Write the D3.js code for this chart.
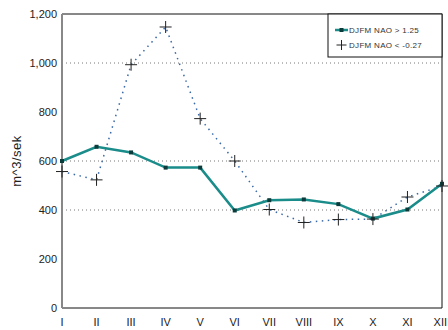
<!DOCTYPE html>
<html>
<head>
<meta charset="utf-8">
<script src="https://cdn.jsdelivr.net/npm/d3@7"></script>
<style>
  body { margin: 0; background: #fff; }
  text { font-family: "Liberation Sans", Arial, sans-serif; }
</style>
</head>
<body>
<div id="chart"></div>
<script>
const months = ['I', 'II', 'III', 'IV', 'V', 'VI', 'VII', 'VIII', 'IX', 'X', 'XI', 'XII'];
const naoHigh = [600, 658, 635, 573, 573, 398, 440, 443, 424, 365, 402, 507];
const naoLow = [557, 523, 993, 1147, 773, 600, 402, 349, 361, 363, 453, 498];
const yTicks = [0, 200, 400, 600, 800, 1000, 1200];
const gridValues = [400, 600, 1000];
const seriesNames = ['DJFM NAO > 1.25', 'DJFM NAO < -0.27'];

const width = 448, height = 330;
const mLeft = 62, mRight = 442, mTop = 14, mBottom = 308;

const svg = d3.select('#chart').append('svg').attr('width', width).attr('height', height);

const x = d3.scalePoint().domain(months).range([mLeft, mRight]);
const y = d3.scaleLinear().domain([0, 1200]).range([mBottom, mTop]);

// grid
svg.selectAll('.grid')
  .data(gridValues)
  .enter()
  .append('line')
  .attr('x1', mLeft)
  .attr('x2', mRight)
  .attr('y1', (d) => y(d))
  .attr('y2', (d) => y(d))
  .attr('stroke', '#777')
  .attr('stroke-width', 1)
  .attr('stroke-dasharray', '1,3');

// frame
svg.append('line').attr('x1', mLeft).attr('x2', mRight).attr('y1', mTop).attr('y2', mTop).attr('stroke', '#111');
svg.append('line').attr('x1', mRight).attr('x2', mRight).attr('y1', mTop).attr('y2', mBottom).attr('stroke', '#111');
svg.append('line').attr('x1', mLeft).attr('x2', mRight).attr('y1', mBottom).attr('y2', mBottom).attr('stroke', '#111');
svg.append('line').attr('x1', mLeft).attr('x2', mLeft).attr('y1', mTop).attr('y2', mBottom).attr('stroke', '#888').attr('stroke-width', 2);

// y tick labels
svg.selectAll('.ytick')
  .data(yTicks)
  .enter()
  .append('text')
  .attr('x', mLeft - 5)
  .attr('y', (d) => y(d) + 4)
  .attr('text-anchor', 'end')
  .attr('font-size', 11)
  .attr('fill', '#222')
  .text((d) => d3.format(',')(d));

// x tick labels (last one kept inside the window)
svg.selectAll('.xtick')
  .data(months)
  .enter()
  .append('text')
  .attr('x', (d, i) => (i === months.length - 1 ? width - 1 : x(d)))
  .attr('y', mBottom + 18)
  .attr('text-anchor', (d, i) => (i === months.length - 1 ? 'end' : 'middle'))
  .attr('font-size', 11)
  .attr('fill', '#222')
  .text((d) => d);

svg.append('text')
  .attr('transform', `translate(21, ${(mTop + mBottom) / 2}) rotate(-90)`)
  .attr('text-anchor', 'middle')
  .attr('font-size', 13)
  .attr('letter-spacing', 0.5)
  .attr('fill', '#222')
  .text('m^3/sek');

// low NAO dotted
const line = d3.line().x((d, i) => x(months[i])).y((d) => y(d));
svg.append('path')
  .datum(naoLow)
  .attr('d', line)
  .attr('fill', 'none')
  .attr('stroke', '#3a6aa8')
  .attr('stroke-width', 1.5)
  .attr('stroke-dasharray', '1.5,4.5');

// high NAO solid
svg.append('path')
  .datum(naoHigh)
  .attr('d', line)
  .attr('fill', 'none')
  .attr('stroke', '#1a8c8a')
  .attr('stroke-width', 2.5);

svg.selectAll('.sq')
  .data(naoHigh)
  .enter()
  .append('rect')
  .attr('x', (d, i) => x(months[i]) - 2)
  .attr('y', (d) => y(d) - 2)
  .attr('width', 4)
  .attr('height', 4)
  .attr('fill', '#0b3b3a');

const plus = (g, cx, cy, s) => {
  g.append('line').attr('x1', cx - s).attr('x2', cx + s).attr('y1', cy).attr('y2', cy).attr('stroke', '#222').attr('stroke-width', 1);
  g.append('line').attr('x1', cx).attr('x2', cx).attr('y1', cy - s).attr('y2', cy + s).attr('stroke', '#222').attr('stroke-width', 1);
};
naoLow.forEach((d, i) => plus(svg, x(months[i]), y(d), 6));

// legend
const lg = svg.append('g');
lg.append('rect')
  .attr('x', 328)
  .attr('y', mTop)
  .attr('width', mRight - 328)
  .attr('height', 43)
  .attr('fill', '#fff')
  .attr('stroke', '#111');
lg.append('line').attr('x1', 335).attr('x2', 348).attr('y1', 30).attr('y2', 30).attr('stroke', '#1a8c8a').attr('stroke-width', 2.5);
lg.append('rect').attr('x', 339.5).attr('y', 28).attr('width', 4).attr('height', 4).attr('fill', '#0b3b3a');
plus(lg, 341.5, 45, 5);
seriesNames.forEach((n, i) => {
  lg.append('text')
    .attr('x', 349)
    .attr('y', 33 + i * 15)
    .attr('font-size', 8)
    .attr('letter-spacing', 0.3)
    .attr('fill', '#333')
    .text(n);
});
</script>
</body>
</html>
